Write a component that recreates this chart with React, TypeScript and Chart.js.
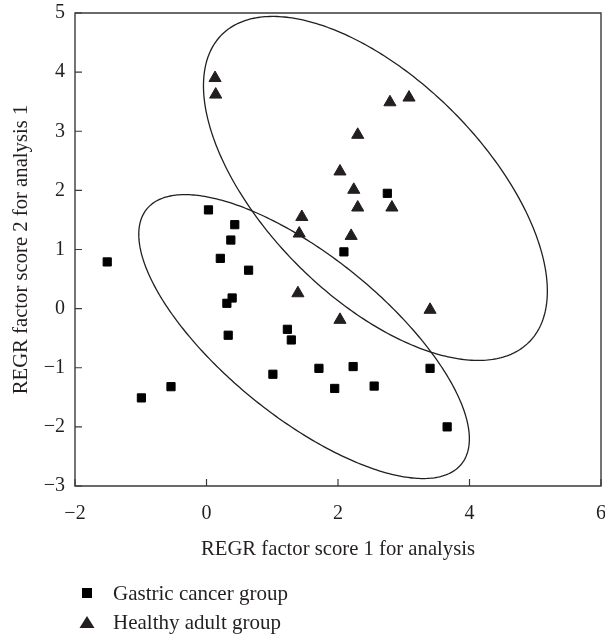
import React, { useEffect, useRef } from "react";
import { Chart, registerables } from "chart.js";

Chart.register(...registerables);

// Gastric cancer group (squares)
const gastricX = [0.03, 0.43, 0.37, -1.51, 0.21, 0.64, 0.39, 0.31, 0.33, 1.23, 1.29, 1.01, -0.54, -0.99, 1.71, 2.23, 1.95, 2.55, 3.40, 3.66, 2.09, 2.75];
const gastricY = [1.67, 1.42, 1.16, 0.79, 0.85, 0.65, 0.18, 0.09, -0.45, -0.35, -0.53, -1.11, -1.32, -1.51, -1.01, -0.98, -1.35, -1.31, -1.01, -2.0, 0.96, 1.95];

// Healthy adult group (triangles)
const healthyX = [0.13, 0.14, 1.45, 1.41, 2.79, 3.08, 2.3, 2.03, 2.24, 2.3, 2.82, 2.2, 1.39, 2.03, 3.4];
const healthyY = [3.9, 3.62, 1.55, 1.27, 3.49, 3.57, 2.94, 2.32, 2.01, 1.71, 1.71, 1.23, 0.26, -0.19, -0.02];

const xTicks = [-2, 0, 2, 4, 6];
const yTicks = [-3, -2, -1, 0, 1, 2, 3, 4, 5];

// Confidence ellipses: [centerX, centerY, spreadX, spreadY, correlation]
const healthyEllipse = [2.569, 2.033, 2.615, 2.909, -0.597];
const gastricEllipse = [1.484, -0.473, 2.514, 2.401, -0.72];

const legendLabels = ["Gastric cancer group", "Healthy adult group"];

const FONT = "'Liberation Serif', 'Times New Roman', Times, serif";
const INK = "#231f20";

// canvas is shifted up inside the page so that the plot lands where the reference has it
const SHIFT_Y = 12;

const fmt = (v: number) => (v < 0 ? "\u2212" + Math.abs(v) : String(v));

const ellipsePlugin = {
  id: "ellipses",
  afterDatasetsDraw(chart: any) {
    const { ctx, scales } = chart;
    const xs = scales.x;
    const ys = scales.y;
    ctx.save();
    ctx.strokeStyle = INK;
    ctx.lineWidth = 1.3;
    for (const [cx, cy, sx, sy, r] of [healthyEllipse, gastricEllipse]) {
      const k = Math.sqrt(1 - r * r);
      ctx.beginPath();
      for (let i = 0; i <= 360; i++) {
        const t = (i * Math.PI) / 180;
        const dx = sx * Math.cos(t);
        const dy = sy * (r * Math.cos(t) + k * Math.sin(t));
        const px = xs.getPixelForValue(cx + dx);
        const py = ys.getPixelForValue(cy + dy);
        if (i === 0) ctx.moveTo(px, py);
        else ctx.lineTo(px, py);
      }
      ctx.closePath();
      ctx.stroke();
    }
    ctx.restore();
  },
};

const framePlugin = {
  id: "frame",
  afterDraw(chart: any) {
    const { ctx, chartArea, scales } = chart;
    const { left, right, top, bottom } = chartArea;
    ctx.save();
    ctx.strokeStyle = "#3a3a3a";
    ctx.lineWidth = 1.4;
    ctx.beginPath();
    ctx.moveTo(left, top);
    ctx.lineTo(right, top);
    ctx.lineTo(right, bottom);
    ctx.lineTo(left, bottom);
    ctx.closePath();
    ctx.stroke();
    ctx.lineWidth = 1.2;
    ctx.beginPath();
    for (const v of xTicks) {
      const px = scales.x.getPixelForValue(v);
      ctx.moveTo(px, bottom);
      ctx.lineTo(px, bottom - 7);
    }
    for (const v of yTicks) {
      const py = scales.y.getPixelForValue(v);
      ctx.moveTo(left, py);
      ctx.lineTo(left + 7, py);
    }
    ctx.stroke();
    ctx.restore();
  },
};

const legendPlugin = {
  id: "customLegend",
  afterDraw(chart: any) {
    const { ctx } = chart;
    const y1 = 593 + SHIFT_Y;
    const y2 = 622 + SHIFT_Y;
    ctx.save();
    ctx.fillStyle = "#000";
    ctx.fillRect(87 - 5, y1 - 5, 10, 10);
    ctx.fillStyle = INK;
    ctx.beginPath();
    ctx.moveTo(87, y2 - 6);
    ctx.lineTo(94.5, y2 + 6);
    ctx.lineTo(79.5, y2 + 6);
    ctx.closePath();
    ctx.fill();
    ctx.font = "21px " + FONT;
    ctx.textAlign = "left";
    ctx.textBaseline = "middle";
    ctx.fillText(legendLabels[0], 113, y1 + 1);
    ctx.fillText(legendLabels[1], 113, y2 + 1);
    ctx.restore();
  },
};

export default function App() {
  const ref = useRef<HTMLCanvasElement | null>(null);

  useEffect(() => {
    if (!ref.current) return;
    const chart = new Chart(ref.current, {
      type: "scatter",
      data: {
        datasets: [
          {
            label: legendLabels[0],
            data: gastricX.map((x, i) => ({ x, y: gastricY[i] })),
            pointStyle: "rect",
            pointRadius: 5.8,
            backgroundColor: "#000",
            borderColor: "#000",
            borderWidth: 1,
          },
          {
            label: legendLabels[1],
            data: healthyX.map((x, i) => ({ x, y: healthyY[i] })),
            pointStyle: "triangle",
            pointRadius: 7,
            backgroundColor: INK,
            borderColor: INK,
            borderWidth: 1,
          },
        ],
      },
      options: {
        responsive: false,
        animation: false,
        events: [],
        layout: { padding: { left: 0, right: 24, top: 25, bottom: 73 } },
        plugins: {
          legend: { display: false },
          tooltip: { enabled: false },
        },
        scales: {
          x: {
            type: "linear",
            min: -2,
            max: 6,
            afterBuildTicks: (s: any) => {
              s.ticks = xTicks.map((v) => ({ value: v }));
            },
            afterFit: (s: any) => {
              s.height = 80;
            },
            grid: { display: false, drawTicks: false },
            border: { display: false },
            ticks: {
              color: INK,
              padding: 16,
              font: { family: FONT, size: 20 },
              callback: (v: any) => fmt(Number(v)),
            },
            title: {
              display: true,
              text: "REGR factor score 1 for analysis",
              color: INK,
              font: { family: FONT, size: 20.7 },
              padding: { top: 0, bottom: 4 },
            },
          },
          y: {
            type: "linear",
            min: -3,
            max: 5,
            afterBuildTicks: (s: any) => {
              s.ticks = yTicks.map((v) => ({ value: v }));
            },
            afterFit: (s: any) => {
              s.width = 75;
            },
            grid: { display: false, drawTicks: false },
            border: { display: false },
            ticks: {
              color: INK,
              padding: 10,
              font: { family: FONT, size: 20 },
              callback: (v: any) => fmt(Number(v)),
            },
            title: {
              display: true,
              text: "REGR factor score 2 for analysis 1",
              color: INK,
              font: { family: FONT, size: 20.7 },
              padding: { top: 9, bottom: 0 },
            },
          },
        },
      },
      plugins: [framePlugin, ellipsePlugin, legendPlugin],
    });
    return () => chart.destroy();
  }, []);

  return (
    <div
      style={{
        position: "absolute",
        left: 0,
        top: 0,
        width: 605,
        height: 639,
        overflow: "hidden",
        background: "#fff",
      }}
    >
      <canvas
        ref={ref}
        width={625}
        height={639 + SHIFT_Y}
        style={{ position: "absolute", left: 0, top: -SHIFT_Y, width: 625, height: 639 + SHIFT_Y, display: "block" }}
      />
    </div>
  );
}
